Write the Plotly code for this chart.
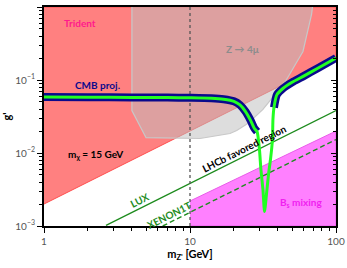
import numpy as np
import plotly.graph_objects as go

# ---------------- data ----------------
x_range = [1, 100]
y_range = [1e-3, 1]

# Trident exclusion boundary (region above it is excluded)
trident_m = [1, 100]
trident_g = [0.002, 0.2]

# Z -> 4 mu excluded region (polygon)
z4mu_m = [4.0, 4.0, 5.0, 11.7, 18.8, 20.9, 25.0, 31.6, 44.6, 59.4, 68.0, 69.0]
z4mu_g = [1.0, 0.0382, 0.0162, 0.0158, 0.0185, 0.0203, 0.0255, 0.0395, 0.0925, 0.246, 0.79, 1.0]

# Bs mixing excluded region (below boundary, for m >= 10)
bs_m = [10, 100]
bs_g = [0.0022, 0.02]

# Direct detection limits
lux_m = [2.66, 100]
lux_g = [0.00102, 0.0382]
xenon_m = [6.5, 100]
xenon_g = [0.001, 0.0153]

# Relic density curve (m_chi = 15 GeV)
cmb_m = [1, 2, 4, 7, 10, 14, 17, 20, 22, 24, 26, 27.5, 28.8, 29.9, 30.6, 31.6,
         32.4, 33.4, 34.5, 35.6, 36.7, 37.0, 37.6, 39.4, 43.3, 50, 60, 75, 100]
cmb_g = [0.0585, 0.058, 0.0578, 0.0575, 0.057, 0.0562, 0.0545, 0.051, 0.0455,
         0.037, 0.028, 0.022, 0.0196, 0.0112, 0.0059, 0.00316, 0.00158,
         0.00271, 0.0051, 0.0082, 0.0152, 0.029, 0.042, 0.063, 0.0765,
         0.093, 0.113, 0.145, 0.2]
cmb_blue_left_min = 0.019   # blue (CMB proj.) drawn above this on left branch
cmb_blue_right_min = 0.036  # and above this on right branch

vline_m = 10

x_tickvals = [1, 10, 100]
x_ticktext = ["1", "10", "100"]
x_minor = [2, 3, 4, 5, 6, 7, 8, 9, 20, 30, 40, 50, 60, 70, 80, 90]
y_tickvals = [1, 0.1, 0.01, 0.001]
y_ticktext = ["10<sup>0</sup>", "10<sup>−1</sup>", "10<sup>−2</sup>", "10<sup>−3</sup>"]
y_minor = [k * 10.0 ** e for e in (-3, -2, -1) for k in range(2, 10)]

# ---------------- figure ----------------
fig = go.Figure()

fig.add_trace(go.Scatter(
    x=trident_m + [trident_m[-1], trident_m[0]],
    y=trident_g + [y_range[1], y_range[1]],
    fill="toself", fillcolor="#ff8080", mode="lines",
    line=dict(color="#ff4d4d", width=1), hoverinfo="skip"))

fig.add_trace(go.Scatter(
    x=z4mu_m, y=z4mu_g, fill="toself",
    fillcolor="rgba(190,190,190,0.52)", mode="lines",
    line=dict(color="#c8c8c8", width=1.2), hoverinfo="skip"))

fig.add_trace(go.Scatter(
    x=bs_m + [bs_m[-1], bs_m[0]],
    y=bs_g + [y_range[0], y_range[0]],
    fill="toself", fillcolor="#ff80ff", mode="lines",
    line=dict(color="#e85ce8", width=1), hoverinfo="skip"))

fig.add_trace(go.Scatter(x=lux_m, y=lux_g, mode="lines",
                         line=dict(color="#1e8c1e", width=1.4), hoverinfo="skip"))
fig.add_trace(go.Scatter(x=xenon_m, y=xenon_g, mode="lines",
                         line=dict(color="#1e8c1e", width=1.4, dash="5px,3px"),
                         hoverinfo="skip"))

fig.add_trace(go.Scatter(x=[vline_m, vline_m], y=y_range, mode="lines",
                         line=dict(color="#555555", width=1.3, dash="dot"),
                         hoverinfo="skip"))

imin = int(np.argmin(cmb_g))
m_arr = np.array(cmb_m)
g_arr = np.array(cmb_g)
left = np.arange(len(cmb_m)) <= imin
blue_l = left & (g_arr >= cmb_blue_left_min)
blue_r = (~left) & (g_arr >= cmb_blue_right_min)
for mask in (blue_l, blue_r):
    fig.add_trace(go.Scatter(x=m_arr[mask], y=g_arr[mask], mode="lines",
                             line=dict(color="#0a0a8c", width=8, shape="spline", smoothing=0.6),
                             hoverinfo="skip"))
fig.add_trace(go.Scatter(x=cmb_m, y=cmb_g, mode="lines",
                         line=dict(color="#22ff22", width=3, shape="spline", smoothing=0.6),
                         hoverinfo="skip"))

fig.add_trace(go.Scatter(x=[10], y=[0.01], yaxis="y2", mode="markers",
                         marker=dict(opacity=0), hoverinfo="skip"))

FONT = "Lato"
ang = -26.6
def ann(text, m, g, color, size=10, angle=0):
    fig.add_annotation(x=np.log10(m), y=np.log10(g), xref="x", yref="y",
                       text=text, showarrow=False, textangle=angle,
                       font=dict(family=FONT, size=size, color=color))

ann("<b>Trident</b>", 1.765, 0.613, "#ff1a8c")
ann("<b>Z → 4μ</b>", 23.1, 0.262, "#8c8c8c")
ann("<b>CMB proj.</b>", 2.31, 0.0866, "#0a0a8c")
ann("<b>m<sub>χ</sub> = 15 GeV</b>", 2.236, 0.00954, "black")
ann("<b>LHCb favored region</b>", 23.8, 0.0116, "black", angle=ang)
ann("<b>LUX</b>", 4.54, 0.00225, "#1e8c1e", angle=ang)
ann("<b>XENON1T</b>", 7.18, 0.00143, "#1e8c1e", angle=ang)
ann("<b>B<sub>s</sub> mixing</b>", 57.6, 0.0021, "#f020f0")

fig.update_layout(
    width=347, height=268,
    margin=dict(l=44, r=11, t=7, b=42, autoexpand=False),
    paper_bgcolor="white", plot_bgcolor="white",
    showlegend=False,
    font=dict(family=FONT),
    xaxis=dict(
        type="log", range=[np.log10(x_range[0]), np.log10(x_range[1])],
        automargin=False,
        tickmode="array", tickvals=x_tickvals, ticktext=x_ticktext,
        ticks="outside", ticklen=5, tickwidth=1, tickcolor="black",
        minor=dict(tickmode="array", tickvals=x_minor, ticks="outside",
                   ticklen=3, tickcolor="black", showgrid=False),
        tickfont=dict(family=FONT, size=10, color="#555555"),
        showline=True, linewidth=2, linecolor="black", mirror=True,
        showgrid=False, zeroline=False,
        title=dict(text="<b>m<sub>Z'</sub> [GeV]</b>", standoff=4,
                   font=dict(family=FONT, size=11, color="black")),
    ),
    yaxis=dict(
        type="log", range=[np.log10(y_range[0]), np.log10(y_range[1])],
        automargin=False,
        tickmode="array", tickvals=y_tickvals, ticktext=y_ticktext,
        ticks="outside", ticklen=5, tickwidth=1, tickcolor="black",
        minor=dict(tickmode="array", tickvals=y_minor, ticks="outside",
                   ticklen=3, tickcolor="black", showgrid=False),
        tickfont=dict(family=FONT, size=10, color="#555555"),
        showline=True, linewidth=2, linecolor="black", mirror=True,
        showgrid=False, zeroline=False,
        title=dict(text="<b>g'</b>", standoff=8,
                   font=dict(family=FONT, size=11, color="black")),
    ),
    yaxis2=dict(
        type="log", range=[np.log10(y_range[0]), np.log10(y_range[1])],
        overlaying="y", side="right", automargin=False,
        tickmode="array", tickvals=y_tickvals, showticklabels=False,
        ticks="inside", ticklen=5, tickcolor="black",
        minor=dict(tickmode="array", tickvals=y_minor, ticks="inside",
                   ticklen=3, tickcolor="black", showgrid=False),
        showline=True, linewidth=2, linecolor="black",
        showgrid=False, zeroline=False,
    ),
)

# remove the browser's default 8px body margin so the figure sits at (0, 0)
fig.write_html("out.html", config={"displayModeBar": False},
               post_script="document.body.style.margin='0';")
